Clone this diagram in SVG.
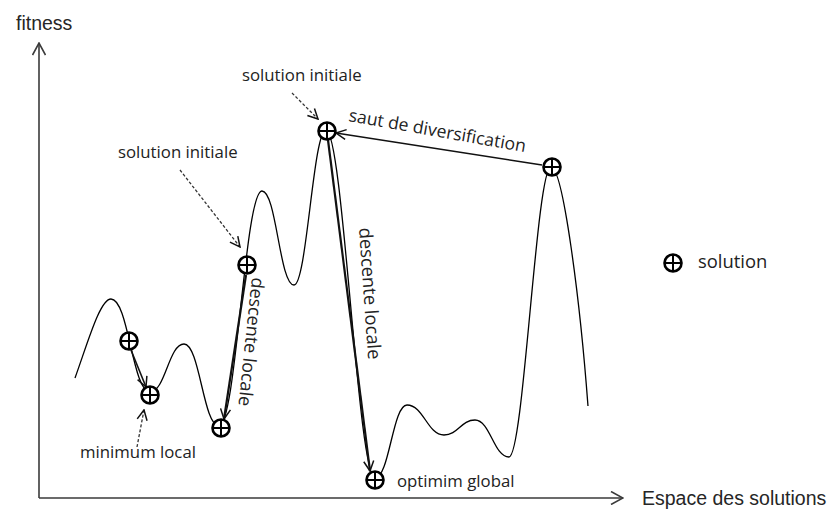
<svg xmlns="http://www.w3.org/2000/svg" xmlns:xlink="http://www.w3.org/1999/xlink" width="836" height="509" viewBox="0 0 836 509">
  <style>
    .axis { fill: none; stroke: #3a3a3a; stroke-width: 1.6; }
    .axis-label { font-family: "Liberation Sans", Arial, sans-serif; font-size: 19.5px; fill: #262626; }
    .lbl { font-family: "Open Sans", "Noto Sans", sans-serif; font-size: 16.8px; fill: #222; }
    .curve { fill: none; stroke: #000; stroke-width: 1.3; }
    .move { fill: none; stroke: #111; stroke-width: 1.6; }
    .move.thick { stroke-width: 2.2; }
    .hint { fill: none; stroke: #333; stroke-width: 1.3; stroke-dasharray: 3 2; }
  </style>
  <defs>
    <marker id="head" viewBox="0 0 12 12" refX="11" refY="6" markerWidth="12" markerHeight="12" markerUnits="userSpaceOnUse" orient="auto">
      <path d="M1,1 L11,6 L1,11" fill="none" stroke="#111" stroke-width="1.5"/>
    </marker>
    <marker id="axis-head" viewBox="0 0 14 14" refX="13" refY="7" markerWidth="14" markerHeight="14" markerUnits="userSpaceOnUse" orient="auto">
      <path d="M1,0.5 L13,7 L1,13.5" fill="none" stroke="#3a3a3a" stroke-width="1.6"/>
    </marker>
    <g id="sol">
      <circle r="8.5" fill="#fff" stroke="#000" stroke-width="2.6"/>
      <path d="M-8.5,0 H8.5 M0,-8.5 V8.5" stroke="#000" stroke-width="2"/>
    </g>
  </defs>

  <rect width="836" height="509" fill="#fff"/>

  <!-- axes -->
  <g id="axes">
    <path class="axis" d="M39,498 V43" marker-end="url(#axis-head)"/>
    <path class="axis" d="M39,498 H623" marker-end="url(#axis-head)"/>
    <text class="axis-label" x="16" y="30">fitness</text>
    <text class="axis-label" x="642" y="505">Espace des solutions</text>
  </g>

  <!-- fitness landscape -->
  <path id="landscape" class="curve" d="M75,378
    C88,342 100,299 111,299
    C128.6,299 132.4,392 150,392
    C165.3,392 168.7,344 184,344
    C199.75,344 203.25,426 219,426
    C236.2,426 244.8,191 262,191
    C276.4,191 279.6,285 294,285
    C306.8,285 313.2,130 326,130
    C343.15,130 357.85,478 375,478
    C389.4,478 392.6,405 407,405
    C423.65,405 427.35,435 444,435
    C458,435 461,420 475,420
    C490.3,420 493.7,457 509,457
    C523.7,457 536.3,167 551,167
    C563,167 580,300 588,406"/>

  <!-- moves between solutions and label pointers -->
  <g id="connectors">
    <path class="move" d="M131,350 L146,387" marker-end="url(#head)"/>
    <path class="move thick" d="M246,275 L224,419" marker-end="url(#head)"/>
    <path class="move" d="M542,165 L336,133" marker-end="url(#head)"/>
    <path class="move thick" d="M328,140 L370,471" marker-end="url(#head)"/>
    <path class="hint" d="M180,170 L240,247" marker-end="url(#head)"/>
    <path class="hint" d="M292,93 L318,119" marker-end="url(#head)"/>
    <path class="hint" d="M137,447 L144,410" marker-end="url(#head)"/>
  </g>

  <!-- solutions -->
  <g id="s1" transform="translate(129,341)"><use href="#sol"/></g>
  <g id="s2" transform="translate(150,395)"><use href="#sol"/></g>
  <g id="s3" transform="translate(221,428)"><use href="#sol"/></g>
  <g id="s4" transform="translate(247,265)"><use href="#sol"/></g>
  <g id="s5" transform="translate(327,131)"><use href="#sol"/></g>
  <g id="s6" transform="translate(552,167)"><use href="#sol"/></g>
  <g id="s7" transform="translate(375,480)"><use href="#sol"/></g>

  <!-- labels -->
  <g id="labels">
    <text class="lbl" x="118" y="158">solution initiale</text>
    <text class="lbl" x="242" y="81">solution initiale</text>
    <text class="lbl" x="80" y="458">minimum local</text>
    <text class="lbl" x="397" y="487">optimim global</text>
    <text class="lbl" style="font-size:17.6px" transform="translate(348,121) rotate(10)">saut de diversification</text>
    <text class="lbl" style="font-size:18px" transform="translate(252,277) rotate(96)">descente locale</text>
    <text class="lbl" style="font-size:18.4px" transform="translate(359,228) rotate(86)">descente locale</text>
  </g>

  <!-- legend -->
  <g id="legend">
    <g transform="translate(673,263)"><use href="#sol"/></g>
    <text class="lbl" style="font-size:18.4px" x="698" y="268">solution</text>
  </g>
</svg>
